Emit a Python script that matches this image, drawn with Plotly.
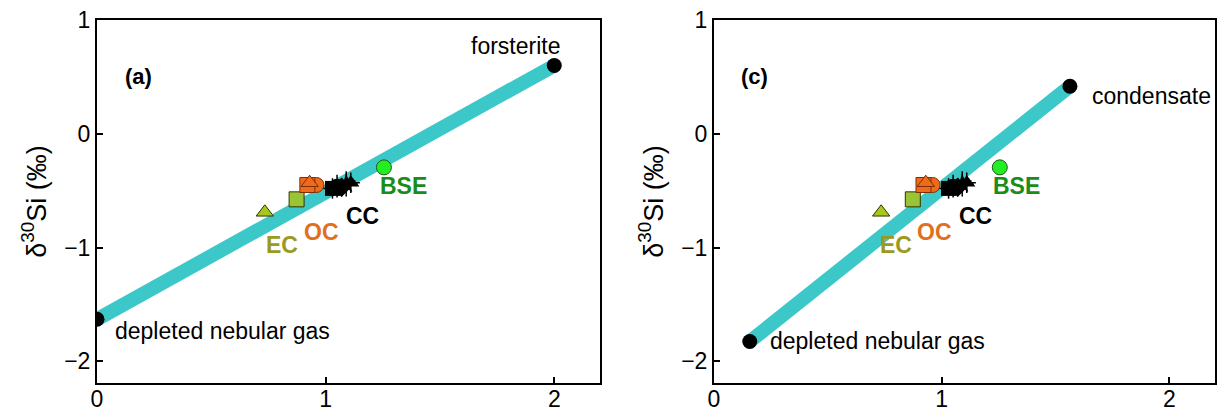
import plotly.graph_objects as go

# Mixing lines (end-members)
line_a_x = [0.0, 2.0]
line_a_y = [-1.63, 0.60]
line_c_x = [0.157, 1.563]
line_c_y = [-1.825, 0.418]
endmember_a_labels = ["depleted nebular gas", "forsterite"]
endmember_c_labels = ["depleted nebular gas", "condensate"]

# Meteorite groups
ec_tri = (0.734, -0.69)
ec_sq = (0.873, -0.576)
oc_sq = (0.92, -0.45)
oc_circ = (0.96, -0.45)
oc_tri = (0.93, -0.43)
cc_x = [1.03, 1.05, 1.07, 1.09, 1.11]
cc_y = [-0.48, -0.46, -0.47, -0.44, -0.43]
cc_err_y = [0.09, 0.10, 0.08, 0.11, 0.09]
cc_err_x = [0.04, 0.05, 0.04, 0.05, 0.04]
cc_symbols = ["square", "circle", "diamond", "star", "triangle-up"]
bse = (1.255, -0.295)

group_labels = ["EC", "OC", "CC", "BSE"]
group_label_x = [0.81, 0.98, 1.16, 1.34]
group_label_y = [-0.98, -0.86, -0.72, -0.46]
group_label_colors = ["#9a9a1e", "#e0701e", "#000000", "#1a8c1a"]

W, H = 1217, 407
FONT = "Liberation Sans, Arial, sans-serif"

fig = go.Figure()


def add_panel(fig, xr, yr, lx, ly):
    fig.add_trace(go.Scatter(x=lx, y=ly, mode="lines",
                             line=dict(color="#3cc8c8", width=14),
                             xaxis=xr, yaxis=yr, showlegend=False, hoverinfo="skip"))
    fig.add_trace(go.Scatter(x=lx, y=ly, mode="markers",
                             marker=dict(color="black", size=15),
                             xaxis=xr, yaxis=yr, showlegend=False))
    # EC
    fig.add_trace(go.Scatter(x=[ec_tri[0]], y=[ec_tri[1]], mode="markers",
                             marker=dict(symbol="triangle-up", size=15, color="#a6c81e",
                                         line=dict(color="#333300", width=1)),
                             xaxis=xr, yaxis=yr, showlegend=False))
    fig.add_trace(go.Scatter(x=[ec_sq[0]], y=[ec_sq[1]], mode="markers",
                             marker=dict(symbol="square", size=15, color="#98c436",
                                         line=dict(color="#333300", width=1)),
                             xaxis=xr, yaxis=yr, showlegend=False))
    # OC
    for (px, py), sym in [(oc_circ, "circle"), (oc_sq, "square"), (oc_tri, "triangle-up")]:
        fig.add_trace(go.Scatter(x=[px], y=[py], mode="markers",
                                 marker=dict(symbol=sym, size=15, color="#f06a1e",
                                             line=dict(color="#7a3000", width=1)),
                                 xaxis=xr, yaxis=yr, showlegend=False))
    # CC
    fig.add_trace(go.Scatter(x=cc_x, y=cc_y, mode="markers",
                             marker=dict(symbol=cc_symbols, size=15, color="black"),
                             error_y=dict(type="data", array=cc_err_y, color="black", thickness=1.5, width=0),
                             error_x=dict(type="data", array=cc_err_x, color="black", thickness=1.5, width=0),
                             xaxis=xr, yaxis=yr, showlegend=False))
    # BSE
    fig.add_trace(go.Scatter(x=[bse[0]], y=[bse[1]], mode="markers",
                             marker=dict(symbol="circle", size=15, color="#22ee22",
                                         line=dict(color="#1a5a1a", width=1)),
                             xaxis=xr, yaxis=yr, showlegend=False))


add_panel(fig, "x", "y", line_a_x, line_a_y)
add_panel(fig, "x2", "y2", line_c_x, line_c_y)

LBL = 23
ann = []
for xref, yref, dx in [("x", "y", 0.0), ("x2", "y2", -0.01)]:
    for t, gx, gy, c in zip(group_labels, group_label_x, group_label_y, group_label_colors):
        ann.append(dict(x=gx + dx, y=gy, xref=xref, yref=yref, text="<b>%s</b>" % t,
                        showarrow=False, font=dict(size=23, color=c, family=FONT)))

ann += [
    dict(x=0.18, y=0.5, xref="x", yref="y", text="<b>(a)</b>", showarrow=False,
         font=dict(size=22, color="black", family=FONT)),
    dict(x=line_a_x[0] + 0.07, y=line_a_y[0] - 0.10, xref="x", yref="y", text=endmember_a_labels[0],
         showarrow=False, xanchor="left", font=dict(size=LBL, color="black", family=FONT)),
    dict(x=line_a_x[1] - 0.17, y=line_a_y[1] + 0.17, xref="x", yref="y", text=endmember_a_labels[1],
         showarrow=False, font=dict(size=LBL, color="black", family=FONT)),
    dict(x=0.18, y=0.5, xref="x2", yref="y2", text="<b>(c)</b>", showarrow=False,
         font=dict(size=22, color="black", family=FONT)),
    dict(x=line_c_x[0] + 0.08, y=line_c_y[0], xref="x2", yref="y2", text=endmember_c_labels[0],
         showarrow=False, xanchor="left", font=dict(size=LBL, color="black", family=FONT)),
    dict(x=line_c_x[1] + 0.09, y=line_c_y[1] - 0.09, xref="x2", yref="y2", text=endmember_c_labels[1],
         showarrow=False, xanchor="left", font=dict(size=LBL, color="black", family=FONT)),
]

axis_common = dict(showgrid=False, zeroline=False, showline=True, linecolor="black", linewidth=2,
                   mirror=True, ticks="inside", ticklen=6, tickwidth=1.5, tickcolor="black",
                   automargin=False,
                   tickfont=dict(size=23, color="black", family=FONT))
xaxis_extra = dict(ticklabelstandoff=-6)

ytitle = dict(text="δ<sup>30</sup>Si (‰)", font=dict(size=27, color="black", family=FONT), standoff=10)

fig.update_layout(
    width=W, height=H,
    margin=dict(l=0, r=0, t=0, b=0),
    paper_bgcolor="white", plot_bgcolor="white",
    showlegend=False,
    annotations=ann,
    xaxis=dict(domain=[97 / W, 600 / W], range=[0, 2.2], tickvals=[0, 1, 2], anchor="y",
               **axis_common, **xaxis_extra),
    yaxis=dict(domain=[1 - 383 / H, 1 - 20 / H], range=[-2.19, 1.0], tickvals=[-2, -1, 0, 1],
               ticktext=["\u22122", "\u22121", "0", "1"],
               anchor="x", title=ytitle, **axis_common),
    xaxis2=dict(domain=[714 / W, 1215 / W], range=[0, 2.2], tickvals=[0, 1, 2], anchor="y2",
                **axis_common, **xaxis_extra),
    yaxis2=dict(domain=[1 - 383 / H, 1 - 20 / H], range=[-2.19, 1.0], tickvals=[-2, -1, 0, 1],
                ticktext=["\u22122", "\u22121", "0", "1"],
                anchor="x2", title=ytitle, **axis_common),
)

fig.write_html("out.html", config={"displayModeBar": False},
               post_script="document.body.style.margin='0';document.body.style.overflow='hidden';")
